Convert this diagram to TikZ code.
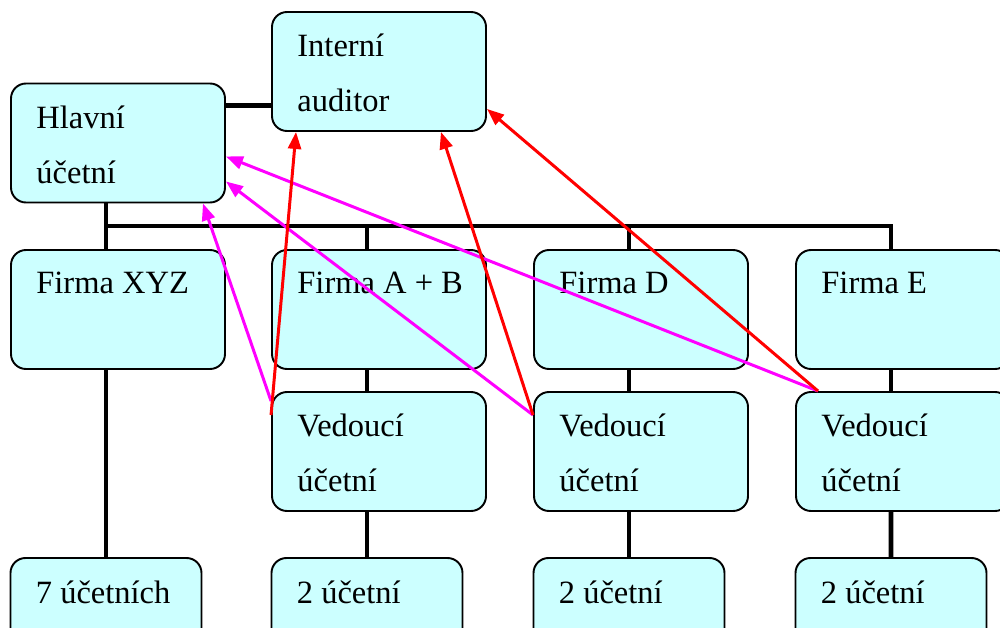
\documentclass[tikz,border=0pt]{standalone}
\usepackage{fontspec}
\setmainfont{Liberation Serif}
\usepackage{xcolor}
\usetikzlibrary{positioning,arrows.meta,backgrounds}
\definecolor{boxcyan}{RGB}{204,255,255}
\definecolor{auditred}{RGB}{255,0,0}
\definecolor{reportpink}{RGB}{255,0,255}
\tikzset{
  box/.style={draw,fill=boxcyan,rounded corners=0.3cm,line width=1.1pt,minimum width=4.28cm,minimum height=2.38cm,inner sep=0pt},
  smallbox/.style={box,minimum width=3.82cm},
  txt/.style={inner sep=0pt,align=left,font=\fontsize{18.5}{31.3}\selectfont},
  org/.style={line width=2.8pt,line cap=rect},
  audit/.style={draw=auditred,line width=1.7pt,-{Triangle[length=0.34cm,width=0.26cm]}},
  report/.style={draw=reportpink,line width=1.7pt,-{Triangle[length=0.34cm,width=0.26cm]}}
}

\begin{document}
\begin{tikzpicture}
  \useasboundingbox (0,0) rectangle (20,-12.56);
  \clip (0,0) rectangle (20,-12.56);
  \node[box] (ia) at (7.58,-1.43) {};
  \node[box] (hu) at (2.36,-2.86) {};
  \node[box] (fx) at (2.36,-6.19) {};
  \node[box] (fab) at (7.58,-6.19) {};
  \node[box] (fd) at (12.82,-6.19) {};
  \node[box] (fe) at (18.06,-6.19) {};
  \node[box] (vab) at (7.58,-9.03) {};
  \node[box] (vd) at (12.82,-9.03) {};
  \node[box] (ve) at (18.06,-9.03) {};
  \node[smallbox] (b7) at (2.12,-12.35) {};
  \node[smallbox] (b2ab) at (7.34,-12.35) {};
  \node[smallbox] (b2d) at (12.58,-12.35) {};
  \node[smallbox] (b2e) at (17.82,-12.35) {};

  \node[txt, below right=0.46 and 0.52 of ia.north west] (ia-t) {Interní\\auditor};
  \node[txt, below right=0.46 and 0.52 of hu.north west] (hu-t) {Hlavní\\účetní};
  \node[txt, below right=0.46 and 0.52 of fx.north west] (fx-t) {Firma XYZ};
  \node[txt, below right=0.46 and 0.52 of fab.north west] (fab-t) {Firma A + B};
  \node[txt, below right=0.46 and 0.52 of fd.north west] (fd-t) {Firma D};
  \node[txt, below right=0.46 and 0.52 of fe.north west] (fe-t) {Firma E};
  \node[txt, below right=0.46 and 0.52 of vab.north west] (vab-t) {Vedoucí\\účetní};
  \node[txt, below right=0.46 and 0.52 of vd.north west] (vd-t) {Vedoucí\\účetní};
  \node[txt, below right=0.46 and 0.52 of ve.north west] (ve-t) {Vedoucí\\účetní};
  \node[txt, below right=0.46 and 0.52 of b7.north west] (b7-t) {7 účetních};
  \node[txt, below right=0.46 and 0.52 of b2ab.north west] (b2ab-t) {2 účetní};
  \node[txt, below right=0.46 and 0.52 of b2d.north west] (b2d-t) {2 účetní};
  \node[txt, below right=0.46 and 0.52 of b2e.north west] (b2e-t) {2 účetní};

  \begin{scope}[on background layer]
    \draw[org] ([yshift=-0.46cm]hu.north east) -- ([yshift=-0.46cm]hu.north east -| ia.west);
    \draw[org] ([xshift=-0.24cm]hu.south) -- ([xshift=-0.24cm,yshift=0.46cm]fx.north);
    \draw[org] ([xshift=-0.24cm,yshift=0.46cm]fx.north) -- ([xshift=-0.24cm,yshift=0.46cm]fe.north);
    \foreach \f in {fx,fab,fd,fe}
      \draw[org] ([xshift=-0.24cm]\f.north) -- ++(0,0.46);
    \draw[org] ([xshift=-0.24cm]fx.south) -- (b7.north);
    \draw[org] ([xshift=-0.24cm]fab.south) -- ([xshift=-0.24cm]vab.north);
    \draw[org] ([xshift=-0.24cm]fd.south) -- ([xshift=-0.24cm]vd.north);
    \draw[org] ([xshift=-0.24cm]fe.south) -- ([xshift=-0.24cm]ve.north);
    \draw[org] ([xshift=-0.24cm]vab.south) -- (b2ab.north);
    \draw[org] ([xshift=-0.24cm]vd.south) -- (b2d.north);
    \draw[org] ([xshift=-0.24cm]ve.south) -- (b2e.north);
  \end{scope}

  \draw[report] ([yshift=-0.2cm]vab.north west) -- ([xshift=-0.46cm]hu.south east);
  \draw[report] ([yshift=-0.48cm]vd.north west) -- ([yshift=0.44cm]hu.south east);
  \draw[report] ([xshift=0.46cm]ve.north west) -- ([yshift=0.94cm]hu.south east);
  \draw[audit] ([yshift=-0.48cm]vab.north west) -- ([xshift=0.5cm]ia.south west);
  \draw[audit] ([yshift=-0.48cm]vd.north west) -- ([xshift=-0.92cm]ia.south east);
  \draw[audit] ([xshift=0.46cm]ve.north west) -- ([yshift=0.46cm]ia.south east);
\end{tikzpicture}
\end{document}
